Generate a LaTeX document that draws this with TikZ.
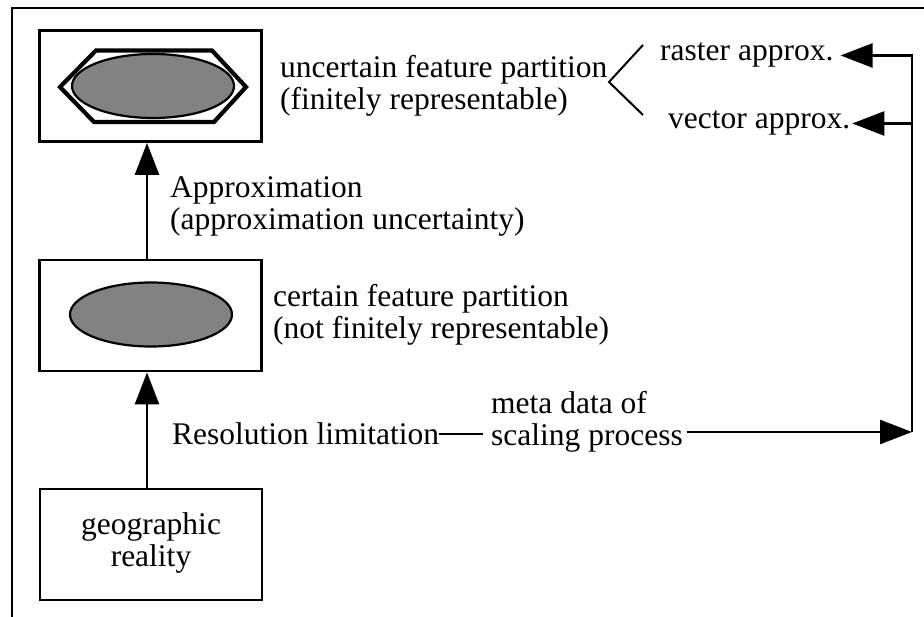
\documentclass[tikz,border=0pt]{standalone}
\usepackage{fontspec}
\setmainfont{Liberation Serif}
\usetikzlibrary{arrows.meta}
\definecolor{blobgray}{RGB}{130,130,130}
% two left-aligned lines whose baseline is that of the first line
\newcommand\twolines[2]{\begin{tabular}[t]{@{}l@{}}#1\\#2\end{tabular}}
\begin{document}
\begin{tikzpicture}[x=1pt,y=-1pt,
  every node/.style={font=\fontsize{31.5}{32}\selectfont, inner sep=0pt},
  frame/.style={draw, line width=2.8pt, minimum width=222pt, minimum height=111pt},
  blob/.style={draw, line width=2.2pt, fill=blobgray},
  arr/.style={line width=2.5pt, -{Triangle[length=32pt,width=24pt]}},
  wire/.style={line width=2pt},
  lbl/.style={anchor=base west}]
\useasboundingbox (0,0) rectangle (924,617);

% page frame (top and left rules)
\draw[line width=2.2pt] (12,617) -- (12,8) -- (924,8);

% the three stages
\node[frame] (top) at (150.5,86) {};
\node[frame] (mid) at (150.5,315.5) {};
\node[frame] (geo) at (151,544.5)
  {\raisebox{-3.5pt}{\begin{tabular}{@{}c@{}}geographic\\reality\end{tabular}}};

% uncertain partition: region and its hexagonal approximation
\draw[blob] (153,86) ellipse [x radius=81pt, y radius=32pt];
\draw[line width=4.2pt, line join=miter]
  (60,87) -- (96,50.5) -- (212,50.5) -- (246,87) -- (214,122) -- (94,122) -- cycle;

% certain partition
\draw[blob] (151,314.5) ellipse [x radius=81pt, y radius=32pt];

% vertical flow
\coordinate (axis) at (147,0);
\draw[arr] (geo.north -| axis) -- (mid.south -| axis);
\draw[arr] (mid.north -| axis) -- (top.south -| axis);

% labels
\node[lbl] (unc) at (280,78) {\twolines{uncertain feature partition}{(finitely representable)}};
\node[lbl] (cer) at (273,307) {\twolines{certain feature partition}{(not finitely representable)}};
\node[lbl] (apx) at (170,198) {\twolines{Approximation}{(approximation uncertainty)}};
\node[lbl] (res) at (172,445) {Resolution limitation};
\node[lbl] (meta) at (491,414) {\twolines{meta data of}{scaling process}};
\node[lbl] (raster) at (660,61) {raster approx.};
\node[lbl] (vector) at (668,129) {vector approx.};

% fork to the two approximations
\coordinate (fork) at (609,82);
\coordinate (forkup) at (643,45);
\coordinate (forkdn) at (643,115);
\draw[wire] (forkup) -- (fork) -- (forkdn);

% metadata feeding back to the approximations
\coordinate (jr) at (912,432);
\draw[wire, shorten >=8pt] (res.east) -- (res.east -| meta.west);
\draw[arr, shorten <=4pt] (meta.east |- jr) -- (jr);
\draw[arr, shorten >=7pt] (jr) |- (raster.east);
\draw[arr, shorten >=2pt] (jr |- vector.east) -- (vector.east);
\end{tikzpicture}
\end{document}
